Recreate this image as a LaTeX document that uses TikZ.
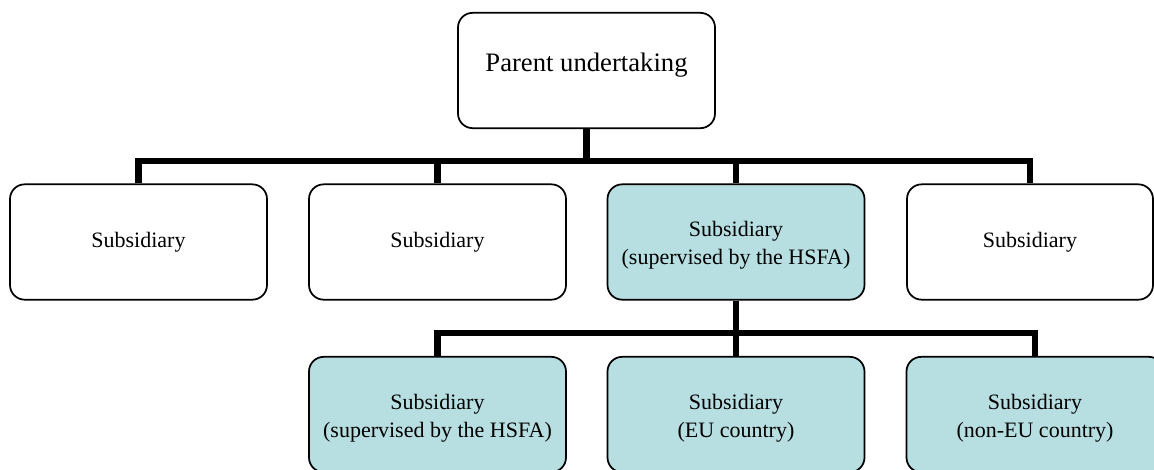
\documentclass[tikz,border=0pt]{standalone}
\usepackage{fontspec}
\setmainfont{Liberation Serif}
\definecolor{hsfa}{RGB}{183,223,226}
\newcommand{\topgap}{\rule{0pt}{17pt}}
\tikzset{
  unit/.style={draw, line width=1.3pt, rounded corners=11pt, align=center,
    minimum width=192.75pt, minimum height=86.5pt, inner sep=0pt,
    font=\fontsize{16.5}{21}\selectfont},
  supervised/.style={unit, fill=hsfa},
  bar/.style={line width=4.6pt, line join=miter}
}
\begin{document}
\begin{tikzpicture}[x=0.75pt, y=-0.75pt]
\useasboundingbox (0,0) rectangle (1154,469);
\clip (0,0) rectangle (1154,469);
% parent
\node[unit, font=\fontsize{20}{24}\selectfont, text height=14pt, text depth=13pt] (parent) at (586.5,70.5) {Parent undertaking};
% first level
\node[unit] (s1) at (138.5,242) {Subsidiary};
\node[unit] (s2) at (437.5,242) {Subsidiary};
\node[supervised] (s3) at (736,242) {\topgap Subsidiary\\(supervised by the HSFA)};
\node[unit, minimum width=184.5pt] (s4) at (1030,242) {Subsidiary};
% second level
\node[supervised] (t1) at (437.5,414.5) {\topgap Subsidiary\\(supervised by the HSFA)};
\node[supervised] (t2) at (736,414.5) {\topgap Subsidiary\\(EU country)};
\node[supervised] (t3) at (1035,414.5) {\topgap Subsidiary\\(non-EU country)};
\coordinate (bus1) at (586.5,161);
\coordinate (bus2) at (736,333);
% connectors
\draw[bar] (parent.south) -- (bus1);
\draw[bar] (s1.north) -- (s1.north |- bus1) -- (s4.north |- bus1) -- (s4.north);
\foreach \n in {s2,s3}
  \draw[bar] (\n.north |- bus1) -- (\n.north);
\draw[bar] (s3.south) -- (bus2);
\draw[bar] (t1.north) -- (t1.north |- bus2) -- (t3.north |- bus2) -- (t3.north);
\draw[bar] (t2.north |- bus2) -- (t2.north);
\end{tikzpicture}
\end{document}
